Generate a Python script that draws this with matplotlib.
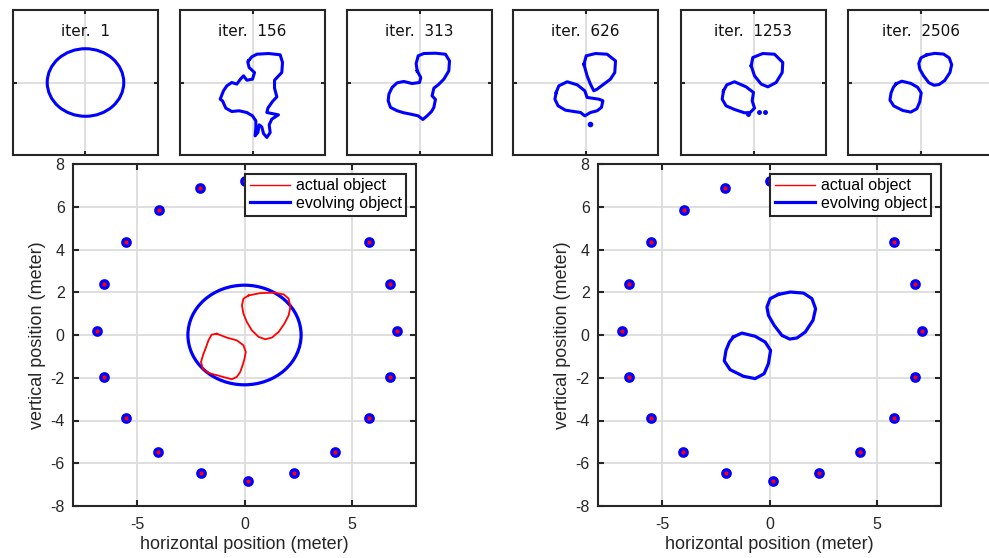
import numpy as np
import matplotlib
matplotlib.use("Agg")
import matplotlib.pyplot as plt
from matplotlib.patches import Ellipse

plt.rcParams['font.family'] = ['Liberation Sans', 'DejaVu Sans']
plt.rcParams['axes.unicode_minus'] = False

# ---------------- data ----------------
sensor_x = [0.03, -2.07, -3.99, -5.55, -6.54, -6.88, -6.54, -5.55, -4.03, -2.03,
            0.14, 2.30, 4.22, 5.79, 6.78, 7.12, 6.78, 5.79, 4.10, 2.10]
sensor_y = [7.21, 6.87, 5.87, 4.33, 2.37, 0.20, -1.96, -3.89, -5.47, -6.45,
            -6.81, -6.45, -5.47, -3.89, -1.96, 0.20, 2.37, 4.33, 5.87, 6.87]

# initial ellipse (iter. 1)
init_center = (0.0, 0.0)
init_width = 5.28
init_height = 4.66

# actual object (red)
act_tri_x = [0.19, 0.73, 1.36, 1.83, 2.06, 2.14, 2.06, 1.86, 1.59, 1.28, 0.97, 0.66, 0.34, 0.11, -0.05, -0.12, -0.05]
act_tri_y = [1.85, 1.96, 1.98, 1.90, 1.70, 1.31, 0.92, 0.53, 0.14, -0.12, -0.20, -0.09, 0.22, 0.61, 1.00, 1.39, 1.70]
act_sq_x = [-1.29, -0.83, -0.36, -0.05, 0.06, 0.00, -0.09, -0.20, -0.36, -0.59, -0.90, -1.29, -1.68, -1.95,
            -2.03, -1.92, -1.79, -1.68, -1.53]
act_sq_y = [0.06, -0.12, -0.25, -0.48, -0.79, -1.11, -1.42, -1.73, -1.96, -2.07, -1.99, -1.88, -1.78, -1.57,
            -1.26, -0.90, -0.56, -0.25, 0.02]

# final evolving object (iter. 2506)
fin_tri_x = [0.42, 0.97, 1.59, 1.98, 2.15, 2.03, 1.67, 1.28, 0.94, 0.58, 0.22, -0.05, -0.12, 0.03]
fin_tri_y = [1.90, 2.01, 1.96, 1.70, 1.23, 0.69, 0.14, -0.14, -0.19, -0.02, 0.45, 0.92, 1.31, 1.70]
fin_sq_x = [-1.68, -1.29, -0.67, -0.20, 0.05, -0.05, -0.25, -0.67, -1.22, -1.84, -2.11, -2.03, -1.87]
fin_sq_y = [-0.09, 0.09, -0.06, -0.33, -0.72, -1.34, -1.81, -2.04, -1.93, -1.62, -1.21, -0.72, -0.33]

# iter. 156
it156_x = [-0.28, -0.05, 0.30, 1.10, 1.91, 2.07, 2.02, 1.52, 1.52, 1.68, 1.38, 1.06, 0.99, 1.79, 1.33,
           1.15, 1.22, 0.99, 0.76, 0.64, 0.46, 0.37, 0.18, 0.23, 0.23, 0.00, -0.39, -0.92, -1.43,
           -1.84, -2.07, -2.23, -2.00, -1.77, -1.43, -1.08, -0.85, -0.62, -0.39, 0.00, 0.14, -0.23, -0.32]
it156_y = [1.49, 1.77, 1.95, 2.00, 1.91, 1.38, 0.69, 0.16, -0.39, -0.99, -1.31, -1.77, -2.07, -2.23, -2.53,
           -2.92, -3.45, -3.79, -3.52, -3.06, -2.92, -3.45, -3.68, -3.10, -2.64, -2.30, -2.07, -1.95, -2.00,
           -1.77, -1.26, -1.15, -0.57, -0.23, 0.00, -0.11, 0.21, 0.46, 0.16, 0.23, 0.69, 1.03, 1.38]

# iter. 313
it313_x = [-0.16, -0.23, -0.09, 0.30, 1.10, 1.79, 2.07, 2.02, 1.68, 1.29, 0.99, 0.87, 1.10, 0.99, 0.83,
           0.53, 0.23, -0.09, -0.62, -1.08, -1.54, -2.00, -2.16, -2.11, -1.89, -1.54, -1.08, -0.51, 0.00, 0.09]
it313_y = [0.80, 1.31, 1.84, 2.00, 2.02, 1.95, 1.49, 0.80, 0.23, -0.16, -0.39, -0.92, -1.17, -1.72, -2.00,
           -2.30, -2.55, -2.30, -2.18, -2.09, -1.95, -1.72, -1.26, -0.80, -0.34, -0.02, 0.07, -0.07, 0.00, 0.34]

# iter. 626
it626_tri_x = [-0.11, 0.05, 0.69, 1.49, 2.07, 2.02, 1.72, 1.20, 0.80, 0.57, 0.34, 0.11]
it626_tri_y = [1.26, 1.84, 2.00, 1.95, 1.49, 0.69, 0.23, -0.16, -0.46, -0.57, -0.11, 0.46]
it626_sq_x = [-2.02, -1.84, -1.26, -0.57, -0.05, 0.11, 0.92, 1.20, 1.10, 0.80, 0.34, -0.05, -0.34, -0.80, -1.38, -1.89, -2.11]
it626_sq_y = [-0.69, -0.23, 0.05, -0.16, -0.57, -1.03, -1.15, -1.26, -1.72, -1.95, -2.07, -2.30, -2.07, -2.00, -1.91, -1.61, -1.15]
it626_dot_x = [0.34]
it626_dot_y = [-2.83]

# iter. 1253
it1253_tri_x = [-0.16, -0.05, 0.64, 1.45, 2.02, 1.98, 1.56, 0.99, 0.53, 0.07]
it1253_tri_y = [1.15, 1.72, 2.00, 1.95, 1.38, 0.69, 0.00, -0.30, -0.11, 0.46]
it1253_sq_x = [-2.07, -1.84, -1.31, -0.51, 0.00, -0.09, 0.07, -0.23, -0.62, -1.31, -1.89, -2.16]
it1253_sq_y = [-0.57, -0.16, 0.05, -0.30, -0.69, -1.26, -1.77, -2.07, -2.09, -1.86, -1.61, -1.15]
it1253_dot_x = [0.41, 0.76, -0.39]
it1253_dot_y = [-2.00, -2.00, -2.18]

inset_titles = ['iter.  1', 'iter.  156', 'iter.  313', 'iter.  626', 'iter.  1253', 'iter.  2506']
xticks_main = [-5, 0, 5]
yticks_main = [-8, -6, -4, -2, 0, 2, 4, 6, 8]

# ---------------- style ----------------
W, H = 989, 558
FRAME = '#262626'
GRID = '#dcdcdc'
BLUE = '#0000ff'
RED = '#ff0000'

fig = plt.figure(figsize=(W / 100, H / 100), dpi=100)


def closed(ax, xs, ys, **kw):
    ax.plot(list(xs) + [xs[0]], list(ys) + [ys[0]], solid_joinstyle='round', **kw)


def style_frame(ax):
    for s in ax.spines.values():
        s.set_color(FRAME)
        s.set_linewidth(1.5)
    ax.grid(True, color=GRID, linewidth=1.3)
    ax.set_axisbelow(True)


def main_axes(left_px):
    ax = fig.add_axes([left_px / W, (H - 506) / H, 343 / W, 342 / H])
    ax.set_xlim(-8, 8)
    ax.set_ylim(-8, 8)
    ax.set_xticks(xticks_main)
    ax.set_yticks(yticks_main)
    style_frame(ax)
    ax.tick_params(direction='in', length=4, width=1.5, color=FRAME, labelcolor=FRAME,
                   labelsize=11.5, top=True, right=True)
    ax.tick_params(axis='x', pad=8)
    ax.tick_params(axis='y', pad=6)
    ax.set_xlabel('horizontal position (meter)', fontsize=13, color=FRAME, labelpad=3)
    ax.set_ylabel('vertical position (meter)', fontsize=13, color=FRAME, labelpad=3)
    return ax


def draw_sensors(ax):
    ax.plot(sensor_x, sensor_y, linestyle='none', marker='o', markersize=5.4,
            markerfacecolor=RED, markeredgecolor=BLUE, markeredgewidth=2.3, zorder=5)


def add_legend(ax, h1, h2):
    leg = ax.legend([h1, h2], ['actual object', 'evolving object'], loc='upper right',
                    fontsize=11.5, frameon=True, fancybox=False, framealpha=1,
                    edgecolor=FRAME, handlelength=2.5, handletextpad=0.35,
                    labelspacing=0.15, borderpad=0.3, borderaxespad=0.6)
    leg.get_frame().set_linewidth(1.5)
    leg.set_zorder(10)


# left main panel
axL = main_axes(73)
draw_sensors(axL)
axL.add_patch(Ellipse(init_center, init_width, init_height, fill=False,
                      edgecolor=BLUE, linewidth=2.3, zorder=3))
closed(axL, act_tri_x, act_tri_y, color=RED, linewidth=1.3, zorder=4)
closed(axL, act_sq_x, act_sq_y, color=RED, linewidth=1.3, zorder=4)
hR, = axL.plot([], [], color=RED, linewidth=1.0)
hB, = axL.plot([], [], color=BLUE, linewidth=2.3)
add_legend(axL, hR, hB)

# right main panel
axR = main_axes(598)
draw_sensors(axR)
closed(axR, fin_tri_x, fin_tri_y, color=BLUE, linewidth=2.3, zorder=4)
closed(axR, fin_sq_x, fin_sq_y, color=BLUE, linewidth=2.3, zorder=4)
add_legend(axR, hR, hB)

# insets
inset_lefts = [13, 180, 347, 513, 681, 848]
insets = []
for i, lp in enumerate(inset_lefts):
    ax = fig.add_axes([lp / W, (H - 155) / H, 145 / W, 145 / H])
    ax.set_xlim(-5, 5)
    ax.set_ylim(-5, 5)
    ax.set_xticks([0])
    ax.set_yticks([0])
    ax.set_xticklabels([])
    ax.set_yticklabels([])
    style_frame(ax)
    ax.tick_params(direction='in', length=3, width=1.5, color=FRAME, top=True, right=True)
    ax.text(0.5, 0.85, inset_titles[i], transform=ax.transAxes, ha='center', va='center',
            fontsize=11, color='#111111', family=['DejaVu Sans'])
    insets.append(ax)

ILW = 2.2
insets[0].add_patch(Ellipse(init_center, init_width, init_height, fill=False,
                            edgecolor=BLUE, linewidth=ILW))
closed(insets[1], it156_x, it156_y, color=BLUE, linewidth=ILW)
closed(insets[2], it313_x, it313_y, color=BLUE, linewidth=ILW)
closed(insets[3], it626_tri_x, it626_tri_y, color=BLUE, linewidth=ILW)
closed(insets[3], it626_sq_x, it626_sq_y, color=BLUE, linewidth=ILW)
insets[3].plot(it626_dot_x, it626_dot_y, 'o', color=BLUE, markersize=3)
closed(insets[4], it1253_tri_x, it1253_tri_y, color=BLUE, linewidth=ILW)
closed(insets[4], it1253_sq_x, it1253_sq_y, color=BLUE, linewidth=ILW)
insets[4].plot(it1253_dot_x, it1253_dot_y, 'o', color=BLUE, markersize=2.5)
closed(insets[5], fin_tri_x, fin_tri_y, color=BLUE, linewidth=ILW)
closed(insets[5], fin_sq_x, fin_sq_y, color=BLUE, linewidth=ILW)

fig.savefig('out.png', dpi=100)
